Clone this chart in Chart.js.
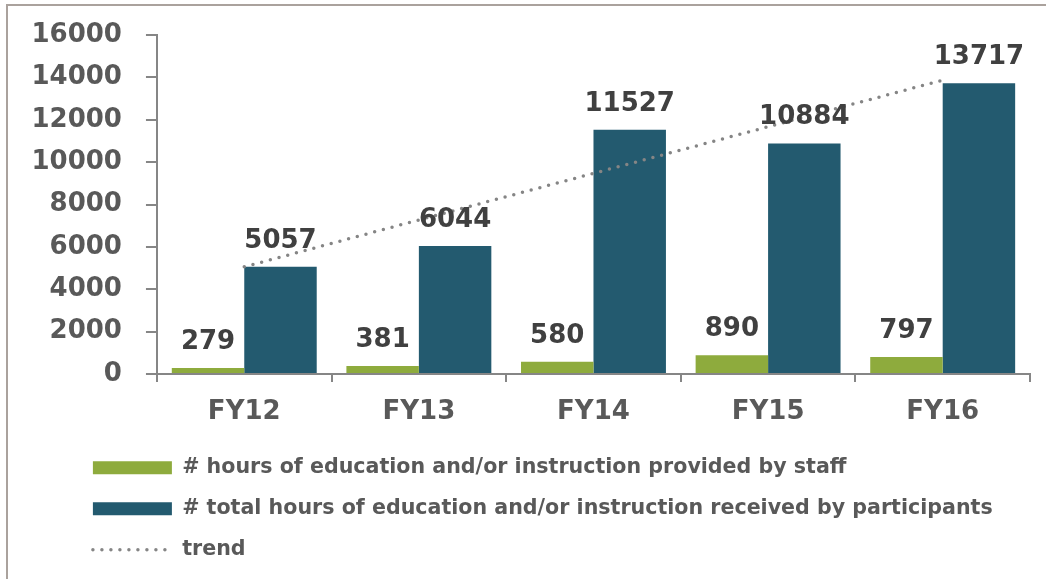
<!DOCTYPE html>
<html lang="en">
<head>
<meta charset="UTF-8">
<title>Hours of education FY12 - FY16</title>
<script src="https://cdn.jsdelivr.net/npm/chart.js"></script>
<style>
    html, body { margin: 0; padding: 0; background: #ffffff; }
    #wrap { position: relative; width: 1049px; height: 579px; }
    #frame { position: absolute; left: 6px; top: 4px; width: 1038px; height: 575px;
             border-left: 2px solid #aaa29d; border-top: 2px solid #aaa29d; pointer-events: none; }
    canvas { display: block; }
</style>
</head>
<body>
<div id="wrap">
    <canvas id="chart" width="1049" height="579"></canvas>
    <div id="frame"></div>
</div>
<script>
    // values
    const years = ['FY12', 'FY13', 'FY14', 'FY15', 'FY16'];
    const staffHours = [279, 381, 580, 890, 797];
    const participantHours = [5057, 6044, 11527, 10884, 13717];
    const trendValues = [5060, 7270, 9470, 11670, 13870];
    const yMax = 16000;
    const yStep = 2000;

    const labelStaff = '# hours of education and/or instruction provided by staff';
    const labelParticipants = '# total hours of education and/or instruction received by participants';
    const labelTrend = 'trend';

    const trendDash = [0, 9];
    const legendFont = 20.6;

    Chart.defaults.font.family = '"DejaVu Sans", sans-serif';

    // value labels above each bar
    const valueLabels = {
        id: 'valueLabels',
        afterDatasetsDraw(chart) {
            const ctx = chart.ctx;
            ctx.save();
            ctx.font = 'bold 26px "DejaVu Sans"';
            ctx.fillStyle = '#404040';
            ctx.textAlign = 'center';
            ctx.textBaseline = 'alphabetic';
            [0, 1].forEach(i => {
                const values = chart.data.datasets[i].data;
                chart.getDatasetMeta(i).data.forEach((bar, j) => {
                    ctx.fillText(String(values[j]), bar.x, bar.y - 19);
                });
            });
            ctx.restore();
        }
    };

    // legend sits further right (and a bit lower) than the default layout puts it
    const legendShift = {
        id: 'legendShift',
        afterLayout(chart) {
            chart.legend.left += 65;
            chart.legend.top += 2;
        }
    };

    new Chart(document.getElementById('chart'), {
        type: 'bar',
        data: {
            labels: years,
            datasets: [
                { label: labelStaff, data: staffHours, backgroundColor: '#8eab3d', borderWidth: 0,
                  pointStyle: 'rect', order: 1, categoryPercentage: 0.83, barPercentage: 1.0 },
                { label: labelParticipants, data: participantHours, backgroundColor: '#235a6f', borderWidth: 0,
                  pointStyle: 'rect', order: 1, categoryPercentage: 0.83, barPercentage: 1.0 },
                { type: 'line', label: labelTrend, data: trendValues, borderColor: '#858585',
                  backgroundColor: '#858585', borderWidth: 3.5, borderDash: trendDash, borderCapStyle: 'round',
                  pointRadius: 0, pointStyle: 'line', fill: false, tension: 0, order: 0 }
            ]
        },
        options: {
            responsive: false,
            animation: false,
            layout: { padding: { left: 7.5, right: 19, top: 35, bottom: 11 } },
            plugins: {
                tooltip: { enabled: false },
                legend: {
                    position: 'bottom',
                    align: 'start',
                    labels: {
                        usePointStyle: true,
                        pointStyleWidth: 79,
                        boxHeight: 13,
                        padding: 41 - legendFont,
                        color: '#595959',
                        font: { size: legendFont, weight: 'bold' },
                        sort: (a, b) => a.datasetIndex - b.datasetIndex,
                        generateLabels: chart => {
                            const items = Chart.defaults.plugins.legend.labels.generateLabels(chart);
                            items.forEach(it => {
                                if (it.datasetIndex === 2) {
                                    it.lineDash = trendDash;
                                    it.lineCap = 'round';
                                    it.lineWidth = 3.5;
                                    it.strokeStyle = '#858585';
                                }
                            });
                            return items;
                        }
                    }
                }
            },
            scales: {
                x: {
                    grid: { drawOnChartArea: false, tickLength: 8, color: '#868686', lineWidth: 2, offset: true },
                    border: { color: '#868686', width: 2 },
                    ticks: { color: '#595959', font: { size: 26, weight: 'bold' }, padding: 15 },
                    afterFit: s => { s.height = 61; }
                },
                y: {
                    min: 0,
                    max: yMax,
                    grid: { drawOnChartArea: false, tickLength: 11, color: '#868686', lineWidth: 2 },
                    border: { color: '#868686', width: 2 },
                    ticks: { stepSize: yStep, color: '#595959', font: { size: 26, weight: 'bold' }, padding: 24,
                             callback: v => String(v) },
                    afterFit: s => { s.paddingTop = 0; }
                }
            }
        },
        plugins: [valueLabels, legendShift]
    });
</script>
</body>
</html>
